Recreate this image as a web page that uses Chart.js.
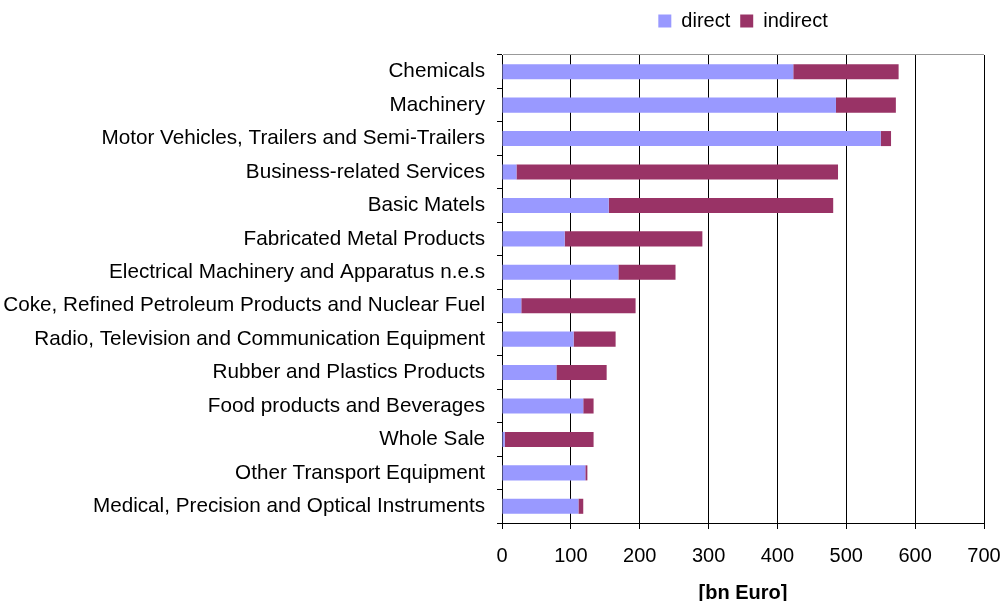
<!DOCTYPE html>
<html>
<head>
<meta charset="utf-8">
<script src="https://cdn.jsdelivr.net/npm/chart.js@4"></script>
<style>
  html, body { margin: 0; padding: 0; background: #fff; }
  #wrap { width: 1001px; height: 601px; }
</style>
</head>
<body>
<div id="wrap"><canvas id="chart" width="1001" height="601"></canvas></div>
<script>
const categories = [
    'Chemicals',
    'Machinery',
    'Motor Vehicles, Trailers and Semi-Trailers',
    'Business-related Services',
    'Basic Matels',
    'Fabricated Metal Products',
    'Electrical Machinery and Apparatus n.e.s',
    'Coke, Refined Petroleum Products and Nuclear Fuel',
    'Radio, Television and Communication Equipment',
    'Rubber and Plastics Products',
    'Food products and Beverages',
    'Whole Sale',
    'Other Transport Equipment',
    'Medical, Precision and Optical Instruments'
];
const directValues = [423, 485, 550, 21, 155, 91, 169, 28, 104, 79, 118, 4, 121, 111];
const indirectValues = [153, 87, 15, 467, 326, 200, 83, 166, 61, 73, 15, 129, 3, 7];
const xTicks = [0, 100, 200, 300, 400, 500, 600, 700];

const fontName = "'Liberation Sans', Arial, sans-serif";

// put the legend over the plot area and up near the top edge
const legendOverPlot = {
    id: 'legendOverPlot',
    beforeDraw(chart) {
        const legend = chart.legend;
        legend.left = chart.chartArea.left;
        legend.right = chart.chartArea.right;
        legend.width = legend.right - legend.left;
        const h = legend.height;
        legend.top = 1;
        legend.bottom = 1 + h;
    }
};

const ctx = document.getElementById('chart').getContext('2d');
const myChart = new Chart(ctx, {
    type: 'bar',
    data: {
        labels: categories,
        datasets: [
            {
                label: 'direct',
                data: directValues,
                backgroundColor: '#9999FF',
                borderWidth: 0,
                barPercentage: 0.45,
                categoryPercentage: 1
            },
            {
                label: 'indirect',
                data: indirectValues,
                backgroundColor: '#993366',
                borderWidth: 0,
                barPercentage: 0.45,
                categoryPercentage: 1
            }
        ]
    },
    options: {
        indexAxis: 'y',
        responsive: false,
        animation: false,
        layout: {
            padding: { left: 3, right: 17, top: 15, bottom: 0 }
        },
        plugins: {
            legend: {
                position: 'top',
                labels: {
                    boxWidth: 13,
                    boxHeight: 13,
                    padding: 10,
                    color: '#000',
                    font: { family: fontName, size: 20 }
                }
            },
            tooltip: { enabled: false }
        },
        scales: {
            x: {
                stacked: true,
                min: 0,
                max: 700,
                afterBuildTicks: axis => {
                    axis.ticks = xTicks.map(v => ({ value: v }));
                },
                afterFit: axis => {
                    axis.height = 78;
                    axis.paddingLeft = 0;
                    axis.paddingRight = 0;
                },
                grid: {
                    color: '#000',
                    lineWidth: 1,
                    tickLength: 6,
                    tickColor: '#000'
                },
                border: { color: '#000', width: 1 },
                ticks: {
                    color: '#000',
                    padding: 15,
                    font: { family: fontName, size: 20 }
                },
                title: {
                    display: true,
                    text: '[bn Euro]',
                    color: '#000',
                    padding: { top: 4, bottom: 0 },
                    font: { family: fontName, size: 20, weight: 'bold', lineHeight: 0.8 }
                }
            },
            y: {
                stacked: true,
                afterFit: axis => {
                    axis.width = 499;
                },
                grid: {
                    offset: true,
                    color: c => c.index === 0 ? '#999' : 'rgba(0,0,0,0)',
                    tickColor: '#000',
                    tickLength: 5,
                    lineWidth: 1
                },
                border: { color: '#000', width: 1 },
                ticks: {
                    color: '#000',
                    padding: 12,
                    autoSkip: false,
                    font: { family: fontName, size: 20.7 }
                }
            }
        }
    },
    plugins: [legendOverPlot]
});
</script>
</body>
</html>
